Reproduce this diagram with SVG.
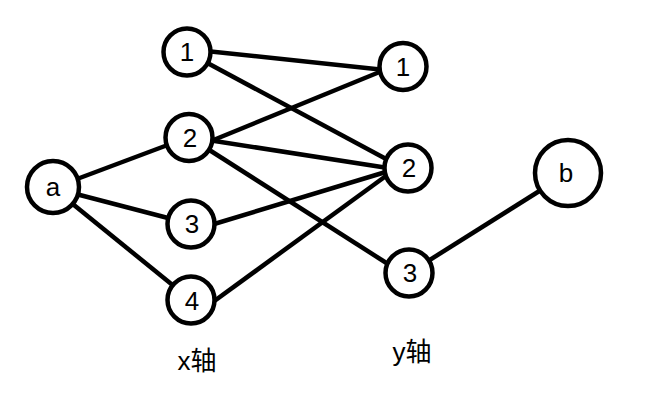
<svg xmlns="http://www.w3.org/2000/svg" width="647" height="414" viewBox="0 0 647 414">
<style>
.n{fill:#fff;stroke:#000;stroke-width:4.5}
.e{stroke:#000;stroke-width:4.5;fill:none;stroke-linecap:butt}
.t{font-family:"Liberation Sans","Noto Sans CJK SC",sans-serif;font-size:26px;fill:#000;text-anchor:middle}
</style>
<rect width="647" height="414" fill="#fff"/>
<g id="connectors">
<line class="e" x1="53" y1="188" x2="189" y2="137"/>
<line class="e" x1="53" y1="188" x2="191" y2="224"/>
<line class="e" x1="53" y1="188" x2="191" y2="300"/>
<line class="e" x1="187" y1="49" x2="385" y2="70"/>
<line class="e" x1="187" y1="52" x2="388" y2="160"/>
<line class="e" x1="189" y1="150" x2="382" y2="71"/>
<line class="e" x1="189" y1="137" x2="388" y2="168"/>
<line class="e" x1="189" y1="137" x2="388" y2="264"/>
<line class="e" x1="191" y1="231" x2="389" y2="171"/>
<line class="e" x1="191" y1="318" x2="390" y2="173"/>
<line class="e" x1="409" y1="273" x2="568" y2="173"/>
</g>
<g id="node-a"><circle class="n" cx="53" cy="187" r="26"/><text class="t" x="53" y="196">a</text></g>
<g id="node-x1"><circle class="n" cx="187" cy="52" r="23.5"/><text class="t" x="187" y="61">1</text></g>
<g id="node-x2"><circle class="n" cx="189" cy="137.5" r="23.5"/><text class="t" x="190" y="147">2</text></g>
<g id="node-x3"><circle class="n" cx="191" cy="224" r="23.5"/><text class="t" x="192" y="233">3</text></g>
<g id="node-x4"><circle class="n" cx="191" cy="300" r="23.5"/><text class="t" x="192" y="310">4</text></g>
<g id="node-y1"><circle class="n" cx="403" cy="66.5" r="23.5"/><text class="t" x="403" y="76">1</text></g>
<g id="node-y2"><circle class="n" cx="408" cy="168" r="23.5"/><text class="t" x="409" y="177">2</text></g>
<g id="node-y3"><circle class="n" cx="409" cy="273" r="23.5"/><text class="t" x="410" y="282">3</text></g>
<g id="node-b"><circle class="n" cx="568" cy="173" r="33"/><text class="t" x="566" y="182">b</text></g>
<text class="t" x="197" y="370">x轴</text>
<text class="t" x="412" y="361">y轴</text>
</svg>
